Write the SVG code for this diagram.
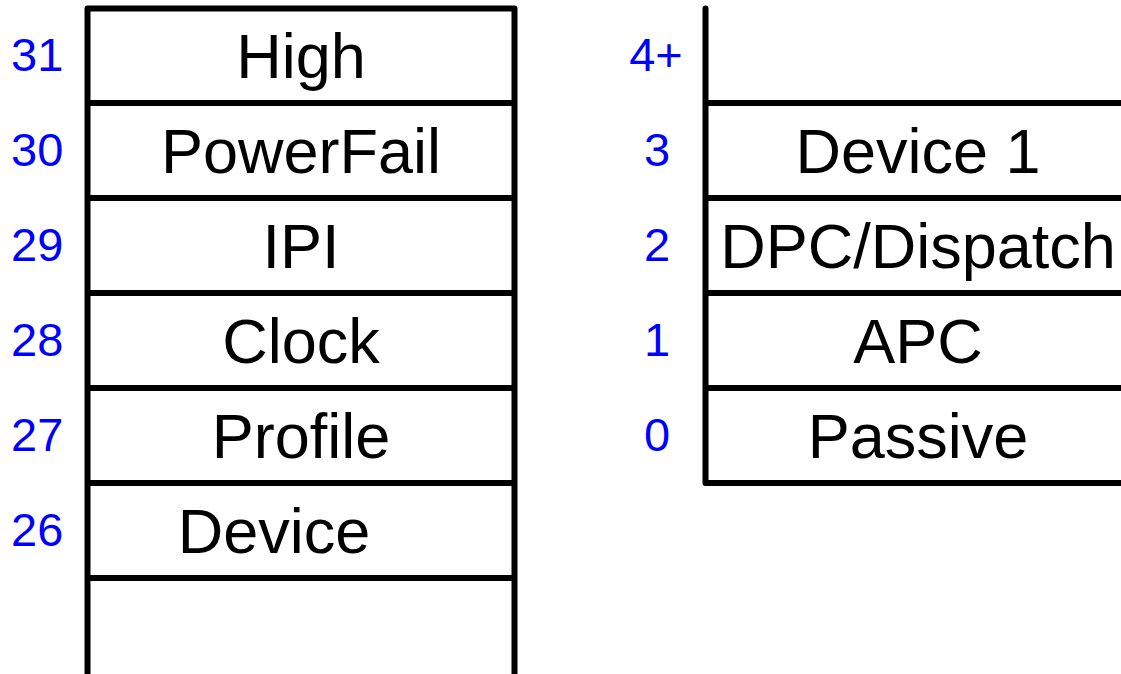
<svg xmlns="http://www.w3.org/2000/svg" width="1121" height="674" viewBox="0 0 1121 674">
  <style>
    .frame { fill: none; stroke: #000; stroke-width: 6; stroke-linecap: round; stroke-linejoin: round; }
    .rule { stroke: #000; stroke-width: 6; }
    .name { font-family: "Liberation Sans", Arial, sans-serif; font-size: 63px; fill: #000; text-anchor: middle; }
    .level { font-family: "Liberation Sans", Arial, sans-serif; font-size: 47px; fill: #0000ff; }
    .lvl-l { text-anchor: start; }
    .lvl-r { text-anchor: middle; }
  </style>
  <rect width="1121" height="674" fill="#fff"/>

  <!-- Left stack: levels 26..31 -->
  <g id="left-stack">
    <path class="frame" d="M87.5,680 V8.5 H514.5 V680"/>
    <line class="rule" x1="87.5" y1="103" x2="514.5" y2="103"/>
    <line class="rule" x1="87.5" y1="198" x2="514.5" y2="198"/>
    <line class="rule" x1="87.5" y1="293" x2="514.5" y2="293"/>
    <line class="rule" x1="87.5" y1="388" x2="514.5" y2="388"/>
    <line class="rule" x1="87.5" y1="483" x2="514.5" y2="483"/>
    <line class="rule" x1="87.5" y1="578" x2="514.5" y2="578"/>
  </g>
  <g id="lvl-31"><text class="level lvl-l" x="11" y="71">31</text><text class="name" x="301" y="78">High</text></g>
  <g id="lvl-30"><text class="level lvl-l" x="11" y="166">30</text><text class="name" x="301" y="173">PowerFail</text></g>
  <g id="lvl-29"><text class="level lvl-l" x="11" y="261">29</text><text class="name" x="301" y="268">IPI</text></g>
  <g id="lvl-28"><text class="level lvl-l" x="11" y="356">28</text><text class="name" x="301" y="363">Clock</text></g>
  <g id="lvl-27"><text class="level lvl-l" x="11" y="451">27</text><text class="name" x="301" y="458">Profile</text></g>
  <g id="lvl-26"><text class="level lvl-l" x="11" y="546">26</text><text class="name" x="274" y="553">Device</text></g>

  <!-- Right stack: levels 0..4+ -->
  <g id="right-stack">
    <path class="frame" d="M705.5,8.5 V483 H1130"/>
    <line class="rule" x1="705.5" y1="103" x2="1130" y2="103"/>
    <line class="rule" x1="705.5" y1="198" x2="1130" y2="198"/>
    <line class="rule" x1="705.5" y1="293" x2="1130" y2="293"/>
    <line class="rule" x1="705.5" y1="388" x2="1130" y2="388"/>
  </g>
  <g id="lvl-4plus"><text class="level lvl-r" x="656" y="71">4+</text></g>
  <g id="lvl-3"><text class="level lvl-r" x="657" y="166">3</text><text class="name" x="918" y="173">Device 1</text></g>
  <g id="lvl-2"><text class="level lvl-r" x="657" y="261">2</text><text class="name" x="918" y="268">DPC/Dispatch</text></g>
  <g id="lvl-1"><text class="level lvl-r" x="657" y="356">1</text><text class="name" x="918" y="363">APC</text></g>
  <g id="lvl-0"><text class="level lvl-r" x="657" y="451">0</text><text class="name" x="918" y="458">Passive</text></g>
</svg>
